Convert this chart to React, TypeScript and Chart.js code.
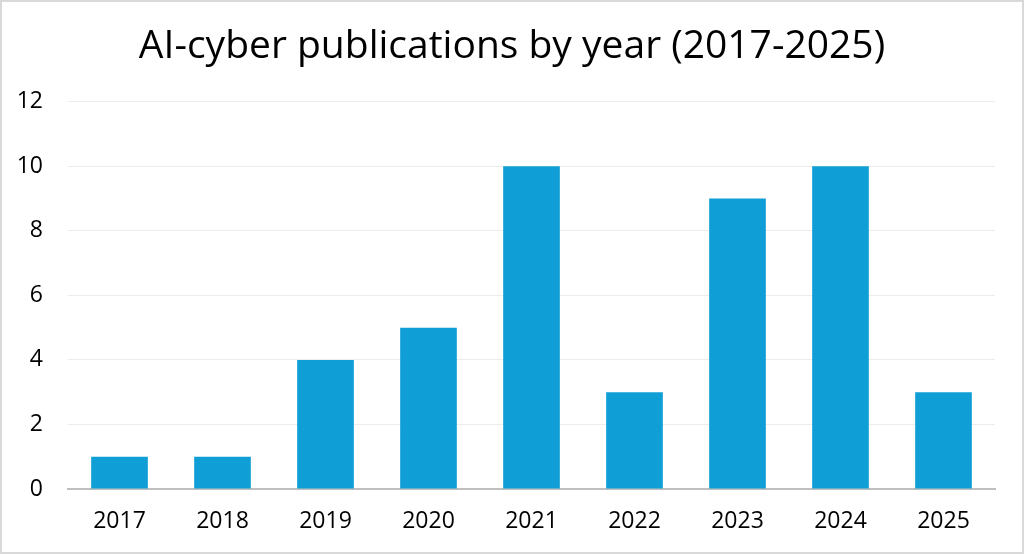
import React, { useEffect, useRef } from "react";
import { Chart, registerables } from "chart.js";

Chart.register(...registerables);

const categories = ["2017", "2018", "2019", "2020", "2021", "2022", "2023", "2024", "2025"];
const publications = [1, 1, 4, 5, 10, 3, 9, 10, 3];
const titleText = "AI-cyber publications by year (2017-2025)";
const yMin = 0;
const yMax = 12;
const yStep = 2;

const FONT = "'Open Sans', 'Liberation Sans', sans-serif";

const borderPlugin = {
  id: "outerBorder",
  beforeDraw(chart: any) {
    const { ctx, width, height } = chart;
    ctx.save();
    ctx.fillStyle = "#ffffff";
    ctx.fillRect(0, 0, width, height);
    ctx.strokeStyle = "#d9d9d9";
    ctx.lineWidth = 2;
    ctx.strokeRect(1, 1, width - 2, height - 2);
    ctx.restore();
  },
};

export default function App() {
  const ref = useRef<HTMLCanvasElement | null>(null);

  useEffect(() => {
    document.body.style.margin = "0";
    if (!ref.current) return;
    const chart = new Chart(ref.current, {
      type: "bar",
      data: {
        labels: categories,
        datasets: [
          {
            label: "Publications",
            data: publications,
            backgroundColor: "#0f9ed5",
            borderWidth: 0,
            barPercentage: 0.55,
            categoryPercentage: 1,
          },
        ],
      },
      plugins: [borderPlugin],
      options: {
        responsive: false,
        animation: false,
        devicePixelRatio: 1,
        layout: { padding: 0 },
        plugins: {
          legend: { display: false },
          tooltip: { enabled: false },
          title: {
            display: true,
            text: titleText,
            color: "#000000",
            font: { family: FONT, size: 39, weight: "normal" },
            padding: { top: 23, bottom: 32 },
          },
        },
        scales: {
          x: {
            grid: { display: false, drawTicks: false },
            border: { display: true, color: "#bfbfbf", width: 2 },
            ticks: {
              color: "#000000",
              font: { family: FONT, size: 23 },
              padding: 19,
            },
            afterFit(scale: any) {
              scale.height = 65;
            },
          },
          y: {
            min: yMin,
            max: yMax,
            grid: { color: "#ececec", lineWidth: 1, drawTicks: false },
            border: { display: false },
            ticks: {
              stepSize: yStep,
              color: "#000000",
              font: { family: FONT, size: 23 },
              padding: 25,
            },
            afterFit(scale: any) {
              scale.width = 68;
            },
          },
          yRight: {
            position: "right",
            display: true,
            min: yMin,
            max: yMax,
            grid: { display: false, drawTicks: false },
            border: { display: false },
            ticks: { display: false },
            afterFit(scale: any) {
              scale.width = 29;
            },
          },
        },
      },
    });
    return () => chart.destroy();
  }, []);

  return (
    <div style={{ width: 1024, height: 554 }}>
      <canvas ref={ref} width={1024} height={554} style={{ display: "block" }} />
    </div>
  );
}
